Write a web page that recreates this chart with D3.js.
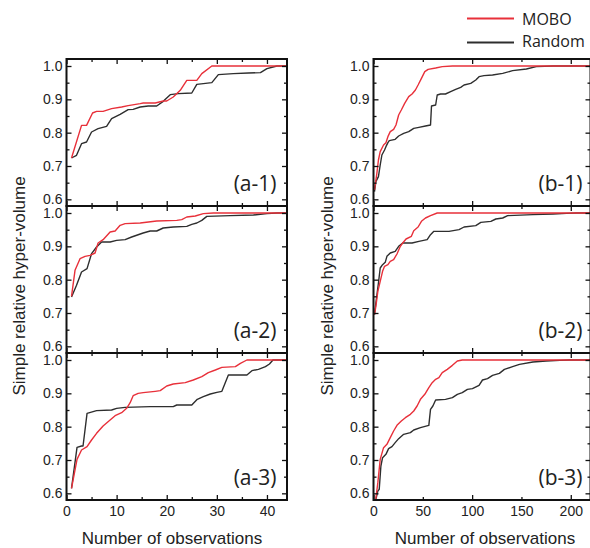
<!DOCTYPE html>
<html>
<head>
<meta charset="utf-8">
<script src="https://cdn.jsdelivr.net/npm/d3@7"></script>
<style>
  html, body { margin: 0; padding: 0; background: #fff; }
  svg { display: block; }
</style>
</head>
<body>
<script>
// Hyper-volume traces: [number of observations, simple relative hyper-volume]
const a1Mobo = [[1,0.724],[3,0.822],[4,0.822],[5.2,0.859],[6,0.864],[7.3,0.864],[9,0.872],[11,0.877],[12.3,0.881],[14.7,0.887],[15.3,0.889],[17.7,0.889],[19.3,0.895],[20,0.895],[21.3,0.907],[22.7,0.927],[24,0.957],[26,0.957],[27,0.977],[29,1.0],[44,1.0]];
const a1Rand = [[1,0.724],[2,0.732],[3,0.767],[4,0.772],[5,0.802],[6.3,0.812],[8,0.819],[9,0.842],[10.7,0.855],[12.3,0.869],[13.3,0.870],[14.7,0.877],[16.3,0.880],[18,0.880],[19.3,0.894],[20.7,0.914],[22.3,0.917],[25,0.919],[26,0.945],[27.3,0.947],[29,0.950],[30.3,0.974],[33.3,0.977],[36.3,0.979],[38.7,0.980],[40,0.992],[42,1.0],[44,1.0]];

const a2Mobo = [[1,0.750],[1.7,0.828],[2.7,0.863],[3.7,0.870],[4.7,0.873],[5.7,0.880],[6.3,0.910],[7.3,0.920],[8.7,0.943],[9.7,0.946],[10.7,0.963],[11.7,0.968],[14.7,0.970],[18,0.976],[22,0.978],[23,0.980],[24,0.988],[25.7,0.991],[27.3,0.998],[29.3,1.0],[44,1.0]];
const a2Rand = [[1,0.748],[2,0.783],[3,0.823],[4.1,0.833],[5,0.878],[6,0.898],[7,0.913],[8.7,0.913],[10,0.918],[11.7,0.920],[13,0.928],[15.3,0.940],[16.7,0.946],[18,0.946],[19.3,0.955],[21.3,0.958],[24,0.960],[25,0.966],[26,0.970],[27,0.978],[28,0.990],[32.7,0.992],[37.3,0.994],[40,0.998],[42,1.0],[44,1.0]];

const a3Mobo = [[1,0.615],[2.1,0.702],[3,0.730],[4.1,0.740],[5,0.760],[6,0.780],[7.3,0.802],[8.7,0.820],[9.7,0.833],[11,0.842],[12,0.855],[12.7,0.872],[13.3,0.893],[14.3,0.900],[15.3,0.902],[17.7,0.906],[18.7,0.908],[20,0.922],[21.3,0.928],[23.7,0.932],[25.3,0.940],[27,0.950],[28.3,0.962],[29.7,0.970],[31,0.978],[33.7,0.980],[34.7,0.990],[36,1.0],[44,1.0]];
const a3Rand = [[1,0.615],[2.1,0.738],[3,0.742],[3.3,0.742],[4.1,0.840],[6,0.848],[9,0.850],[10,0.855],[11.7,0.858],[16.7,0.860],[21.3,0.860],[22,0.865],[25,0.865],[26.1,0.882],[27.3,0.890],[28.7,0.898],[30,0.903],[31,0.906],[32.3,0.955],[36,0.955],[37,0.968],[38.3,0.972],[39.7,0.980],[40.5,0.988],[41.2,1.0],[44,1.0]];

const b1Mobo = [[1,0.628],[3.4,0.678],[5,0.718],[6.8,0.743],[10.2,0.763],[12.6,0.770],[14.6,0.788],[17,0.803],[20.4,0.810],[22.8,0.823],[25.5,0.853],[28.2,0.868],[31.6,0.888],[35.7,0.908],[39.1,0.916],[42.5,0.928],[45.2,0.943],[48.6,0.963],[52,0.983],[55.4,0.990],[63,0.994],[69.7,0.998],[80,1.0],[220,1.0]];
const b1Rand = [[1,0.623],[2.4,0.653],[5,0.668],[6.8,0.703],[8.5,0.733],[11.2,0.748],[12.6,0.758],[14.6,0.770],[16,0.776],[22,0.780],[25.5,0.790],[30.6,0.798],[35.7,0.803],[40.8,0.813],[46,0.816],[52.7,0.820],[57.8,0.823],[58.8,0.880],[63,0.883],[64.6,0.913],[68,0.916],[73,0.916],[78.2,0.923],[83.3,0.930],[88.4,0.936],[91.8,0.943],[98.6,0.948],[103.7,0.958],[107,0.968],[112,0.971],[120.7,0.973],[131,0.978],[141,0.986],[155,0.991],[165,0.998],[182,1.0],[220,1.0]];

const b2Mobo = [[1,0.695],[2.4,0.720],[4.4,0.765],[6.8,0.795],[9.2,0.825],[11.2,0.840],[14.6,0.845],[17,0.855],[20.4,0.860],[23.8,0.877],[27.2,0.900],[29.6,0.910],[33,0.922],[38.4,0.930],[40.8,0.947],[45.2,0.958],[48.6,0.975],[52.7,0.985],[57.8,0.992],[64.6,1.0],[220,1.0]];
const b2Rand = [[1,0.695],[2.4,0.730],[5,0.790],[6.8,0.835],[9.2,0.845],[11.9,0.852],[13.6,0.870],[17,0.880],[22,0.885],[25.5,0.900],[29.6,0.910],[39.1,0.910],[46,0.915],[54.4,0.920],[57.8,0.935],[61.2,0.945],[76.5,0.945],[86.7,0.950],[91.8,0.958],[103.7,0.962],[108.8,0.972],[119,0.975],[124,0.982],[131,0.985],[136,0.992],[161.6,0.995],[182,0.997],[195.6,0.999],[205.8,1.0],[220,1.0]];

const b3Mobo = [[2,0.575],[4.4,0.632],[6.8,0.702],[10.2,0.737],[13.6,0.747],[17,0.767],[20.4,0.787],[23.8,0.804],[28.2,0.817],[32.3,0.827],[37.4,0.837],[40.8,0.847],[44.2,0.862],[47.6,0.882],[52,0.897],[56.1,0.917],[59.5,0.932],[63,0.942],[66.3,0.947],[69.7,0.962],[74.8,0.972],[80,0.984],[85,0.997],[90,1.0],[220,1.0]];
const b3Rand = [[2.4,0.582],[4.4,0.607],[5.8,0.612],[7.5,0.682],[9.2,0.707],[12.6,0.717],[15.3,0.734],[18.7,0.740],[22,0.752],[25.5,0.764],[30.6,0.777],[37.4,0.782],[40.8,0.790],[47.6,0.797],[56.1,0.804],[57.8,0.852],[60.2,0.862],[63,0.880],[73,0.882],[80,0.887],[85,0.897],[90,0.902],[95.2,0.912],[100.3,0.914],[107,0.924],[110.5,0.940],[115.6,0.944],[120.7,0.954],[127.6,0.960],[132.7,0.972],[141,0.980],[148,0.987],[161.6,0.994],[175,0.997],[189,0.999],[199,1.0],[220,1.0]];

// Axis ticks and labels
const yTicks = [0.6, 0.7, 0.8, 0.9, 1.0];
const yMinorTicks = [0.6, 0.65, 0.7, 0.75, 0.8, 0.85, 0.9, 0.95, 1.0];
const xTicksA = [0, 10, 20, 30, 40];
const xMinorA = [5, 15, 25, 35];
const xTicksB = [0, 50, 100, 150, 200];
const xMajorB = [0, 100, 200];
const panelLabelsA = ["(a-1)", "(a-2)", "(a-3)"];
const panelLabelsB = ["(b-1)", "(b-2)", "(b-3)"];
const seriesNames = ["MOBO", "Random"];
const yTitle = "Simple relative hyper-volume";
const xTitle = "Number of observations";

const RED = "#e8303a", DARK = "#2e2e2e";
const W = 590, H = 548;
const rowTop = [59, 206, 353], rowH = 147;
const yDomain = [0.58, 1.021];

const columns = [
  { left: 66.5, right: 287, domain: [0, 44], ticks: xTicksA, minor: xMinorA, labels: panelLabelsA,
    data: [[a1Mobo, a1Rand], [a2Mobo, a2Rand], [a3Mobo, a3Rand]], titleX: 25, xTitleX: 172, labelInset: 10.5 },
  { left: 373.5, right: 590.5, domain: [0, 220], ticks: xMajorB, minor: xTicksB.filter(v => !xMajorB.includes(v)), labels: panelLabelsB,
    data: [[b1Mobo, b1Rand], [b2Mobo, b2Rand], [b3Mobo, b3Rand]], titleX: 333, xTitleX: 485, labelInset: 8, tickLabels: xTicksB }
];

const svg = d3.select("body").append("svg")
  .attr("width", W).attr("height", H)
  .attr("font-family", "'Liberation Sans', Arial, sans-serif");

function styleAxis(g) {
  g.select(".domain").remove();
  g.selectAll(".tick line").attr("stroke", "#111").attr("stroke-width", 1.3);
  g.selectAll(".tick text").attr("fill", "#222").attr("font-size", 14);
}

columns.forEach((col, ci) => {
  const x = d3.scaleLinear().domain(col.domain).range([col.left, col.right]);

  col.data.forEach((pair, ri) => {
    const top = rowTop[ri], bottom = top + rowH;
    const y = d3.scaleLinear().domain(yDomain).range([bottom, top]);
    const clipId = `clip-${ci}-${ri}`;
    svg.append("clipPath").attr("id", clipId)
      .append("rect").attr("x", col.left).attr("y", top)
      .attr("width", col.right - col.left).attr("height", rowH);

    const line = d3.line().x(d => x(d[0])).y(d => y(d[1]));
    const plot = svg.append("g").attr("clip-path", `url(#${clipId})`);
    // Random first so MOBO sits on top
    plot.append("path").datum(pair[1]).attr("d", line)
      .attr("fill", "none").attr("stroke", DARK).attr("stroke-width", 1.4).attr("stroke-linejoin", "round");
    plot.append("path").datum(pair[0]).attr("d", line)
      .attr("fill", "none").attr("stroke", RED).attr("stroke-width", 1.4).attr("stroke-linejoin", "round");

    // Left axis: labelled majors plus minor ticks, all pointing inward
    svg.append("g").attr("transform", `translate(${col.left},0)`)
      .call(d3.axisLeft(y).tickValues(yTicks).tickSize(-5).tickPadding(4).tickFormat(d3.format(".1f")))
      .call(styleAxis);
    svg.append("g").attr("transform", `translate(${col.left},0)`)
      .call(d3.axisLeft(y).tickValues(yMinorTicks.filter(v => !yTicks.includes(v))).tickSize(-3).tickFormat(""))
      .call(styleAxis);
    // Right side ticks
    svg.append("g").attr("transform", `translate(${col.right},0)`)
      .call(d3.axisRight(y).tickValues(yTicks).tickSize(-5).tickFormat(""))
      .call(styleAxis);
    svg.append("g").attr("transform", `translate(${col.right},0)`)
      .call(d3.axisRight(y).tickValues(yMinorTicks.filter(v => !yTicks.includes(v))).tickSize(-3).tickFormat(""))
      .call(styleAxis);
    // Top ticks
    svg.append("g").attr("transform", `translate(0,${top})`)
      .call(d3.axisTop(x).tickValues(col.ticks).tickSize(-5).tickFormat(""))
      .call(styleAxis);
    svg.append("g").attr("transform", `translate(0,${top})`)
      .call(d3.axisTop(x).tickValues(col.minor).tickSize(-3).tickFormat(""))
      .call(styleAxis);
    // Bottom ticks, labelled on the last row only
    const isLast = ri === col.data.length - 1;
    const labelVals = col.tickLabels || col.ticks;
    svg.append("g").attr("transform", `translate(0,${bottom})`)
      .call(d3.axisBottom(x).tickValues(col.ticks).tickSize(-5).tickFormat(""))
      .call(styleAxis);
    svg.append("g").attr("transform", `translate(0,${bottom})`)
      .call(d3.axisBottom(x).tickValues(col.minor).tickSize(-3).tickFormat(""))
      .call(styleAxis);
    if (isLast) {
      svg.append("g").attr("transform", `translate(0,${bottom})`)
        .call(d3.axisBottom(x).tickValues(labelVals).tickSize(0).tickPadding(6.5).tickFormat(d3.format("d")))
        .call(styleAxis);
    }

    // Frame
    svg.append("rect")
      .attr("x", col.left).attr("y", top)
      .attr("width", col.right - col.left).attr("height", rowH)
      .attr("fill", "none").attr("stroke", "#111").attr("stroke-width", 2);

    // Panel tag
    svg.append("text")
      .attr("x", col.right - col.labelInset).attr("y", bottom - 15)
      .attr("text-anchor", "end")
      .attr("font-family", "'Open Sans', sans-serif").attr("font-size", 21)
      .attr("fill", "#222")
      .text(col.labels[ri]);
  });

  // Axis titles
  svg.append("text")
    .attr("transform", `translate(${col.titleX},286) rotate(-90)`)
    .attr("text-anchor", "middle").attr("font-size", 17).attr("fill", "#222")
    .text(yTitle);
  svg.append("text")
    .attr("x", col.xTitleX).attr("y", 544)
    .attr("text-anchor", "middle").attr("font-size", 17).attr("fill", "#222")
    .text(xTitle);
});

// Legend
const legend = svg.append("g");
const legendRows = [{ name: seriesNames[0], color: RED, ly: 18.5, ty: 25 },
                    { name: seriesNames[1], color: DARK, ly: 42.5, ty: 47 }];
legendRows.forEach(r => {
  legend.append("line").attr("x1", 467).attr("x2", 514).attr("y1", r.ly).attr("y2", r.ly)
    .attr("stroke", r.color).attr("stroke-width", 2);
  legend.append("text").attr("x", 522).attr("y", r.ty)
    .attr("font-family", "'Open Sans', sans-serif").attr("font-size", 16).attr("fill", "#222")
    .text(r.name);
});
</script>
</body>
</html>
